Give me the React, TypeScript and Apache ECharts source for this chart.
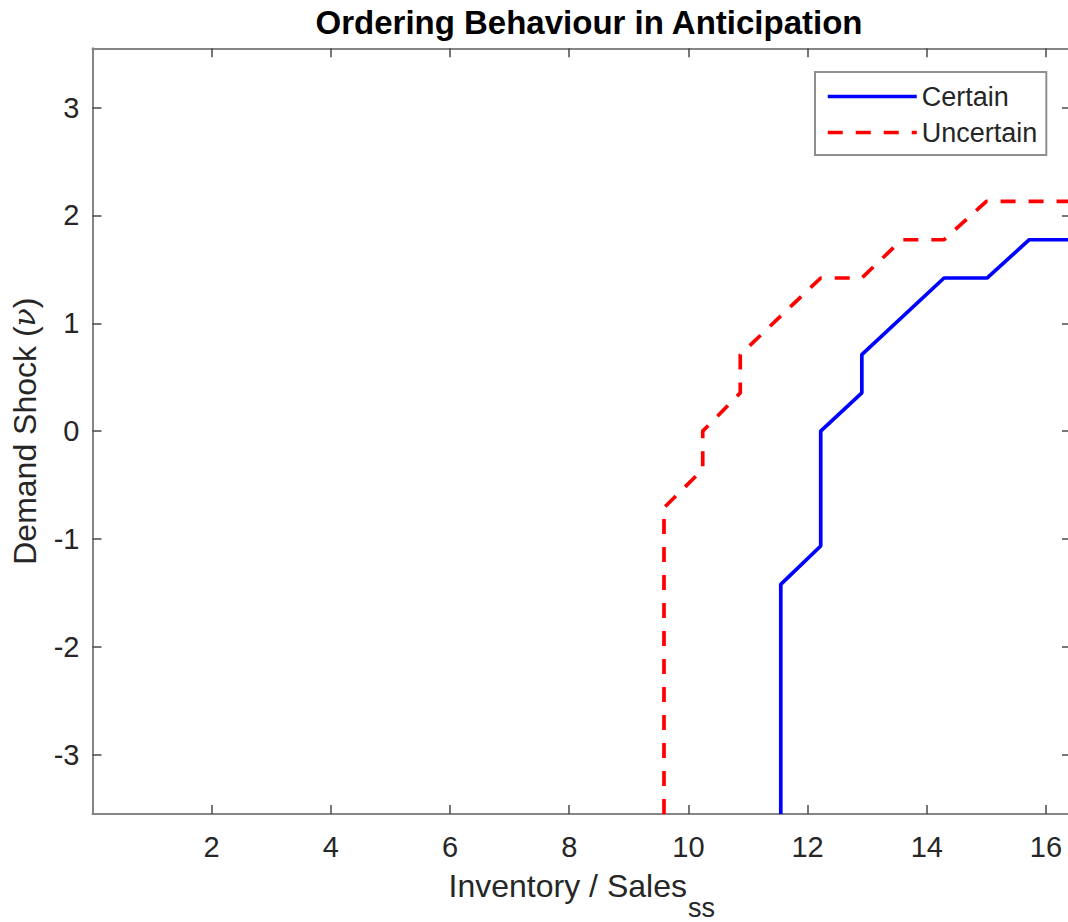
import { useEffect, useRef } from "react";
import * as echarts from "echarts";

// Threshold curves: inventory/sales ratio (x) against demand shock (y)
const certainX = [11.55, 11.55, 12.22, 12.22, 12.91, 12.91, 14.29, 15.01, 15.72, 16.42];
const certainY = [-3.55, -1.42, -1.065, 0, 0.355, 0.71, 1.42, 1.42, 1.775, 1.775];

const uncertainX = [9.59, 9.59, 10.24, 10.24, 10.87, 10.87, 12.22, 12.91, 13.58, 14.29, 15.0, 16.42];
const uncertainY = [-3.55, -0.71, -0.355, 0, 0.355, 0.71, 1.42, 1.42, 1.775, 1.775, 2.13, 2.13];

const xTicks = [2, 4, 6, 8, 10, 12, 14, 16];
const yTicks = [-3, -2, -1, 0, 1, 2, 3];

const X_MIN = 0;
const X_MAX = 16.42;
const Y_MIN = -3.55;
const Y_MAX = 3.55;

const FONT = "'Liberation Sans', Arial, Helvetica, sans-serif";
const AXIS_GRAY = "#858585";
const TICK_GRAY = "#4a4a4a";
const TEXT_GRAY = "#262626";

function zip(xs: number[], ys: number[]) {
  return xs.map((x, i) => [x, ys[i]]);
}

export default function App() {
  const ref = useRef<HTMLDivElement>(null);

  useEffect(() => {
    if (!ref.current) return;
    const chart = echarts.init(ref.current, null, { renderer: "svg" });

    const axisCommon = {
      type: "value" as const,
      splitLine: { show: false },
      axisLine: { show: true, onZero: false, lineStyle: { color: AXIS_GRAY, width: 2 } },
      axisTick: { show: true, inside: true, length: 9, lineStyle: { color: TICK_GRAY, width: 1.5 } },
    };

    chart.setOption({
      animation: false,
      backgroundColor: "#ffffff",
      title: {
        text: "Ordering Behaviour in Anticipation",
        left: 584,
        top: 1,
        textAlign: "center",
        textStyle: { fontFamily: FONT, fontSize: 33, fontWeight: "bold", color: "#000000" },
      },
      legend: {
        left: 815,
        top: 72,
        orient: "vertical",
        itemWidth: 89,
        itemHeight: 26,
        itemGap: 9,
        padding: [11, 9, 9, 11],
        borderColor: "#8f8f8f",
        borderWidth: 2,
        backgroundColor: "#ffffff",
        itemStyle: { opacity: 0 },
        lineStyle: { width: 3.5 },
        textStyle: { fontFamily: FONT, fontSize: 27, color: TEXT_GRAY, padding: [0, 0, 0, 0] },
        data: ["Certain", "Uncertain"],
      },
      grid: {
        left: 92.5,
        top: 48.3,
        width: 978.5,
        height: 765.7,
        containLabel: false,
        outerBoundsMode: "none",
      },
      xAxis: [
        {
          ...axisCommon,
          position: "bottom",
          min: X_MIN,
          max: X_MAX,
          axisTick: { ...axisCommon.axisTick, customValues: xTicks },
          axisLabel: {
            customValues: xTicks,
            margin: 18,
            fontFamily: FONT,
            fontSize: 29,
            color: TEXT_GRAY,
          },
          name: "{a|Inventory / Sales}{s|ss}",
          nameLocation: "middle",
          nameGap: 56,
          nameTextStyle: {
            rich: {
              a: { fontFamily: FONT, fontSize: 32, color: TEXT_GRAY, verticalAlign: "top", lineHeight: 34 },
              s: {
                fontFamily: FONT,
                fontSize: 27,
                color: TEXT_GRAY,
                verticalAlign: "top",
                lineHeight: 27,
                padding: [24, 0, 0, 1],
              },
            },
          },
        },
        {
          ...axisCommon,
          position: "top",
          min: X_MIN,
          max: X_MAX,
          axisTick: { ...axisCommon.axisTick, customValues: xTicks },
          axisLabel: { show: false },
        },
      ],
      yAxis: [
        {
          ...axisCommon,
          position: "left",
          min: Y_MIN,
          max: Y_MAX,
          axisTick: { ...axisCommon.axisTick, customValues: yTicks },
          axisLabel: {
            customValues: yTicks,
            margin: 13,
            fontFamily: FONT,
            fontSize: 29,
            color: TEXT_GRAY,
          },
          name: "{a|Demand Shock (}{i|ν}{a|)}",
          nameLocation: "middle",
          nameRotate: 90,
          nameGap: 52,
          nameTextStyle: {
            rich: {
              a: { fontFamily: FONT, fontSize: 32, color: TEXT_GRAY },
              i: { fontFamily: "'DejaVu Serif', serif", fontSize: 30, fontStyle: "italic", color: TEXT_GRAY },
            },
          },
        },
        {
          ...axisCommon,
          position: "right",
          min: Y_MIN,
          max: Y_MAX,
          axisTick: { ...axisCommon.axisTick, customValues: yTicks },
          axisLabel: { show: false },
        },
      ],
      series: [
        {
          name: "Certain",
          type: "line",
          xAxisIndex: 0,
          yAxisIndex: 0,
          data: zip(certainX, certainY),
          symbol: "none",
          color: "#0000ff",
          lineStyle: { color: "#0000ff", width: 3.7, type: "solid" },
        },
        {
          name: "Uncertain",
          type: "line",
          xAxisIndex: 0,
          yAxisIndex: 0,
          data: zip(uncertainX, uncertainY),
          symbol: "none",
          color: "#ff0000",
          lineStyle: { color: "#ff0000", width: 3.7, type: [15, 13] },
        },
      ],
    });

    return () => chart.dispose();
  }, []);

  return (
    <div
      style={{
        position: "absolute",
        left: 0,
        top: 0,
        width: 1068,
        height: 922,
        overflow: "hidden",
        background: "#ffffff",
      }}
    >
      <div ref={ref} style={{ width: 1080, height: 922 }} />
    </div>
  );
}
